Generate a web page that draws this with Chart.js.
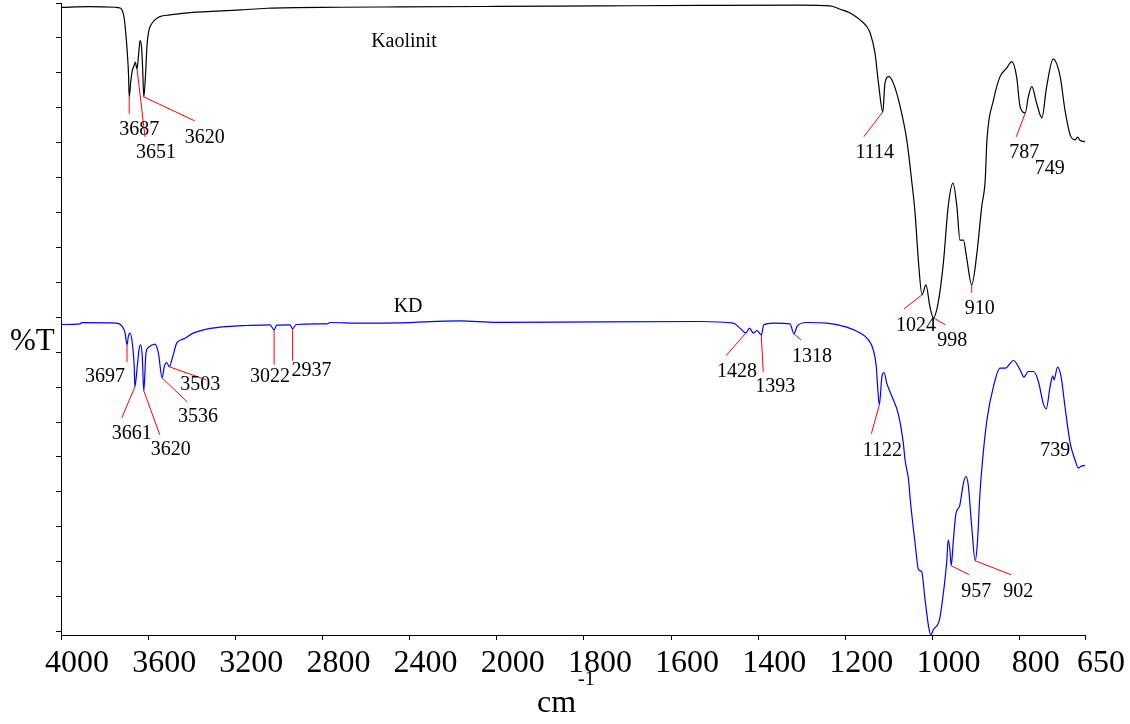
<!DOCTYPE html>
<html>
<head>
<meta charset="utf-8">
<script src="https://cdn.jsdelivr.net/npm/chart.js@4.4.1/dist/chart.umd.min.js"></script>
<style>
  html, body { margin: 0; padding: 0; background: #fff; }
  #wrap { width: 1130px; height: 724px; }
</style>
</head>
<body>
<div id="wrap"><canvas id="irChart" width="1130" height="724"></canvas></div>
<script>
// x tick labels (cm-1), axis changes scale at 2000
const xTickLabels = [4000, 3600, 3200, 2800, 2400, 2000, 1800, 1600, 1400, 1200, 1000, 800, 650];
const yMinorTicks = [0, 5, 10, 15, 20, 25, 30, 35, 40, 45, 50, 55, 60, 65, 70, 75, 80, 85, 90];

// Kaolinit spectrum
const kaoWn = [4000, 3871, 3752, 3729, 3720, 3711, 3702, 3695, 3690, 3687, 3679, 3672, 3665, 3659, 3651, 3644,
  3637, 3630, 3625, 3620, 3612, 3605, 3596, 3587, 3569, 3546, 3500, 3408, 3178, 3054, 2719, 2444, 2000,
  1763, 1533, 1304, 1235, 1212, 1189, 1166, 1152, 1143, 1132, 1124, 1114, 1109, 1100, 1090, 1074, 1059,
  1048, 1040, 1032, 1024, 1015, 1006, 998, 987, 975, 964, 953, 944, 937, 929, 922, 910, 898, 887, 879,
  875, 860, 845, 830, 818, 807, 799, 787, 780, 772, 761, 749, 738, 723, 707, 696, 684, 673, 667, 661, 650];
const kaoT = [89.36, 89.47, 89.39, 89.29, 89.01, 88.01, 85.43, 82.57, 79.71, 76.56, 78.99, 80.42, 80.99, 81.52, 80.56, 82.57,
  84.61, 83.57, 80.42, 76.56, 79.71, 84.0, 86.15, 86.86, 87.58, 88.05, 88.29, 88.62, 89.01, 89.25, 89.39, 89.44, 89.51,
  89.58, 89.65, 89.69, 89.58, 89.11, 88.58, 87.58, 86.72, 85.71, 82.85, 78.56, 74.42, 78.56, 79.46, 78.56, 75.12, 70.40,
  64.67, 59.95, 52.79, 48.21, 49.64, 46.54, 44.92, 47.07, 52.79, 60.85, 64.2, 60.85, 56.04, 56.04, 53.69, 49.64, 54.21, 60.85, 64.67,
  70.40, 76.1, 79.46, 80.66, 81.61, 79.46, 75.17, 74.28, 76.6, 78.03, 75.65, 73.56, 78.03, 81.95, 79.46, 74.69, 71.11, 70.40, 70.78, 70.3, 70.15];

// KD spectrum
const kdWn = [4000, 3913, 3904, 3744, 3721, 3706, 3697, 3691, 3683, 3671, 3664, 3661, 3650, 3642, 3634, 3627,
  3620, 3610, 3599, 3569, 3553, 3536, 3526, 3515, 3503, 3487, 3469, 3439, 3393, 3331, 3239, 3148, 3041,
  3022, 3010, 2949, 2937, 2921, 2780, 2765, 2628, 2444, 2169, 2000, 1763, 1533, 1457, 1442, 1428, 1420,
  1411, 1403, 1393, 1387, 1365, 1327, 1318, 1310, 1289, 1243, 1197, 1166, 1147, 1136, 1129, 1126, 1122,
  1116, 1111, 1105, 1093, 1078, 1067, 1063, 1055, 1051, 1040, 1032, 1025, 1017, 1009, 1004, 998, 984,
  975, 967, 964, 960, 957, 952, 946, 938, 929, 923, 918, 910, 902, 897, 891, 885, 875, 860, 845, 833,
  814, 799, 790, 780, 768, 757, 746, 739, 730, 724, 721, 713, 705, 696, 684, 673, 665, 660, 650];
const kdT = [43.96, 44.06, 44.23, 44.16, 43.77, 42.77, 41.05, 42.24, 42.73, 40.81, 37.95, 35.04, 37.95, 40.34, 41.05, 39.38,
  34.47, 39.87, 40.67, 41.15, 39.87, 36.33, 37.95, 38.52, 37.91, 39.38, 41.3, 41.87, 42.73, 43.3, 43.67, 43.82, 43.92,
  43.2, 43.87, 43.92, 43.34, 43.96, 44.06, 44.25, 44.16, 44.2, 44.49, 44.27, 44.35, 44.39, 44.16, 43.44, 42.77, 43.44,
  42.73, 43.1, 42.48, 43.92, 44.16, 44.06, 42.63, 43.77, 44.25, 44.16, 43.59, 42.73, 41.77, 40.34, 37.95, 35.09, 32.47,
  36.52, 37.09, 35.57, 33.65, 31.03, 26.98, 24.59, 21.73, 18.87, 12.67, 8.85, 8.6, 4.55, 0.73, -0.5, 0.26, 1.69,
  5.51, 10.28, 13.14, 11.71, 9.42, 13.14, 16.96, 17.91, 21.26, 22.2, 21.01, 15.04, 10.13, 12.67, 19.83, 24.59, 30.32, 35.09, 37.72, 37.72,
  38.81, 37.48, 36.43, 37.23, 37.23, 35.8, 32.71, 31.89, 35.09, 36.62, 36.04, 37.86, 36.52, 32.22, 26.98, 24.59, 23.4, 23.63, 23.78];

// labelled peaks
const kaoPeakWn = [3687, 3651, 3620, 1114, 1024, 998, 910, 787, 749];
const kaoPeakT = [76.56, 80.56, 76.56, 74.42, 48.21, 44.92, 49.64, 74.28, 73.56];
const kdPeakWn = [3697, 3661, 3620, 3536, 3503, 3022, 2937, 1428, 1393, 1318, 1122, 957, 902, 739];
const kdPeakT = [41.05, 35.04, 34.47, 36.33, 37.91, 43.2, 43.34, 42.77, 42.48, 42.63, 32.47, 9.42, 10.13, 31.89];

// callout layout in px from the peak: [lineDx, lineDy, labelDx, labelDy]
const kaoCallouts = [[0, 17, 10, 31], [8, 68, 19, 82], [51, 24, 61, 39], [-19, 25, -8, 39],
  [-18, 14, -6, 29], [12, 7, 19, 21], [0, 8, 8, 22], [-9, 24, -1, 38], [null, null, 8, 49]];
const kdCallouts = [[0, 17, -22, 30], [-13, 31, -3, 45], [16, 44, 27, 57], [25, 24, 36, 37], [37, 13, 31, 16],
  [0, 35, -4, 45], [0, 32, 19, 40], [-20, 23, -9, 37], [2, 37, 14, 50], [7, 6, 18, 21], [-8, 29, 3, 44],
  [18, 9, 25, 24], [36, 14, 43, 29], [null, null, 9, 40]];

const SERIF = "'Liberation Serif', 'Times New Roman', serif";

// piecewise axis: 4000-2000 at half the scale of 2000-650
function toAxis(w) {
  return w >= 2000 ? (4000 - w) / 2 : 1000 + (2000 - w);
}

function pts(wn, t) {
  return wn.map((w, i) => ({ x: toAxis(w), y: t[i] }));
}

const annotate = {
  id: 'annotate',
  afterDatasetsDraw(chart) {
    const { ctx, scales: { x, y } } = chart;
    ctx.save();

    function callouts(wn, t, lay) {
      wn.forEach((w, i) => {
        const px = x.getPixelForValue(toAxis(w));
        const py = y.getPixelForValue(t[i]);
        const c = lay[i];
        if (c[0] !== null) {
          ctx.strokeStyle = '#ff0000';
          ctx.lineWidth = 1;
          ctx.beginPath();
          ctx.moveTo(px, py);
          ctx.lineTo(px + c[0], py + c[1]);
          ctx.stroke();
        }
        ctx.fillStyle = '#000';
        ctx.font = '20px ' + SERIF;
        ctx.textAlign = 'center';
        ctx.textBaseline = 'alphabetic';
        ctx.fillText(String(w), px + c[2], py + c[3] + 7);
      });
    }
    callouts(kaoPeakWn, kaoPeakT, kaoCallouts);
    callouts(kdPeakWn, kdPeakT, kdCallouts);

    // series names
    ctx.font = '20px ' + SERIF;
    ctx.textAlign = 'center';
    ctx.fillText('Kaolinit', x.getPixelForValue(toAxis(2426)), y.getPixelForValue(83.75));
    ctx.fillText('KD', x.getPixelForValue(toAxis(2407)), y.getPixelForValue(45.78));

    // axis titles
    ctx.textAlign = 'left';
    ctx.font = '31px ' + SERIF;
    ctx.fillText('%T', 10, 350);
    ctx.font = '32px ' + SERIF;
    ctx.fillText('cm', 537, 712);
    ctx.font = '20px ' + SERIF;
    ctx.fillText('-1', 578, 685);
    ctx.restore();
  }
};

new Chart(document.getElementById('irChart'), {
  type: 'line',
  data: {
    datasets: [
      {
        label: 'Kaolinit',
        data: pts(kaoWn, kaoT),
        borderColor: '#000000',
        borderWidth: 1.2,
        pointRadius: 0,
        cubicInterpolationMode: 'monotone',
        fill: false
      },
      {
        label: 'KD',
        data: pts(kdWn, kdT),
        borderColor: '#0000ff',
        borderWidth: 1.2,
        pointRadius: 0,
        cubicInterpolationMode: 'monotone',
        fill: false
      }
    ]
  },
  options: {
    responsive: false,
    animation: false,
    devicePixelRatio: 1,
    layout: { padding: { top: 3, right: 45, left: 0, bottom: 0 } },
    plugins: {
      legend: { display: false },
      tooltip: { enabled: false }
    },
    scales: {
      x: {
        type: 'linear',
        min: 0,
        max: 2350,
        afterBuildTicks: s => { s.ticks = xTickLabels.map(w => ({ value: toAxis(w) })); },
        afterFit: s => { s.height = 89; },
        ticks: {
          autoSkip: false,
          maxRotation: 0,
          minRotation: 0,
          labelOffset: 16,
          padding: 4,
          color: '#000',
          font: { family: SERIF, size: 32 },
          callback: (v, i) => xTickLabels[i]
        },
        grid: { drawOnChartArea: false, drawTicks: true, tickLength: 5, color: '#000' },
        border: { display: true, color: '#000', width: 1 }
      },
      y: {
        type: 'linear',
        min: -0.5,
        max: 90,
        afterBuildTicks: s => { s.ticks = yMinorTicks.map(v => ({ value: v })); },
        afterFit: s => { s.width = 61; },
        ticks: { display: false },
        grid: { drawOnChartArea: false, drawTicks: true, tickLength: 5, color: '#000' },
        border: { display: true, color: '#000', width: 1 }
      }
    }
  },
  plugins: [annotate]
});
</script>
</body>
</html>
